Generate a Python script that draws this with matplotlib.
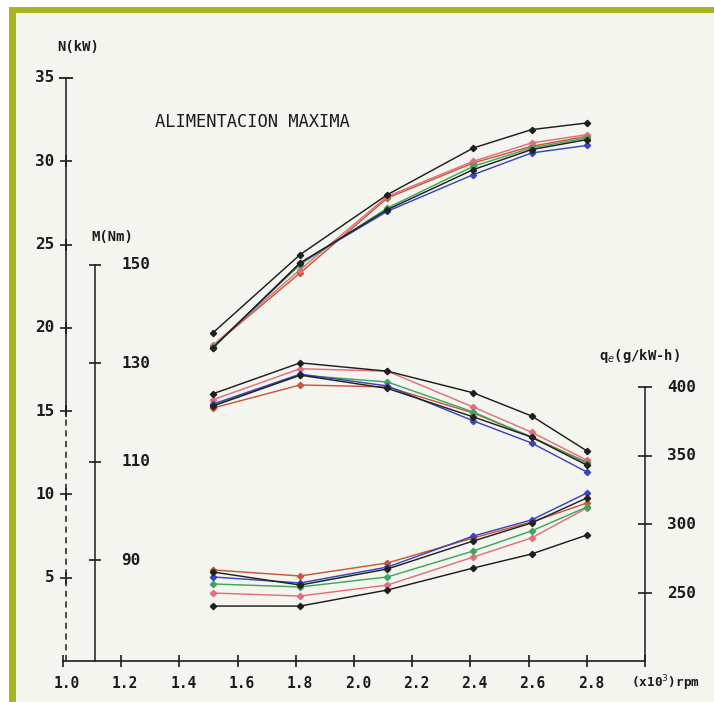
import matplotlib.pyplot as plt
from matplotlib.patches import Rectangle

# engine speed (x10^3 rpm) of the measured points
rpm = [1.515, 1.815, 2.115, 2.41, 2.61, 2.8]

# power N (kW) for each run
n_black_a = [19.7, 24.4, 28.0, 30.8, 31.9, 32.3]
n_pink = [18.95, 23.5, 27.9, 30.0, 31.1, 31.6]
n_red = [18.9, 23.3, 27.8, 29.9, 30.9, 31.5]
n_green = [18.85, 23.8, 27.2, 29.7, 30.8, 31.4]
n_black_b = [18.8, 23.9, 27.1, 29.5, 30.7, 31.3]
n_blue = [18.8, 23.9, 27.0, 29.2, 30.5, 30.95]

# torque M (Nm)
m_black_a = [123.8, 130.1, 128.4, 124.0, 119.3, 112.2]
m_pink = [122.6, 128.9, 128.4, 121.1, 116.0, 110.3]
m_red = [120.9, 125.6, 125.2, 119.9, 115.0, 109.9]
m_green = [121.5, 127.6, 126.2, 120.1, 115.0, 109.7]
m_black_b = [121.3, 127.6, 124.9, 119.1, 115.0, 109.3]
m_blue = [121.7, 127.8, 125.4, 118.3, 113.8, 107.9]

# specific consumption q_e (g/kW-h)
q_black_a = [240.5, 240.5, 252.2, 268.2, 278.4, 292.2]
q_pink = [250.0, 247.8, 255.8, 276.2, 290.1, 311.9]
q_red = [266.8, 262.4, 271.9, 290.1, 301.7, 315.5]
q_green = [256.6, 254.4, 261.7, 280.6, 295.2, 312.6]
q_black_b = [265.3, 255.8, 267.5, 287.9, 301.0, 319.2]
q_blue = [261.7, 257.3, 268.9, 291.5, 303.2, 322.8]

# axis ticks
x_ticks = [1.0, 1.2, 1.4, 1.6, 1.8, 2.0, 2.2, 2.4, 2.6, 2.8]
n_ticks = [5, 10, 15, 20, 25, 30, 35]
m_ticks = [90, 110, 130, 150]
q_ticks = [250, 300, 350, 400]

W, H = 714, 702
MONO = 'DejaVu Sans Mono'
INK = '#1c1c1c'

fig = plt.figure(figsize=(W / 100, H / 100), dpi=100)
fig.patch.set_facecolor('white')

#olive frame of the scanned page and paper colour (drawn below the axes)
olive = '#a9b41f'
fig.patches.append(Rectangle((16 / W, 0), 1, (H - 13) / H, transform=fig.transFigure,
                             facecolor='#f5f5f0', edgecolor='none', zorder=-10))
fig.patches.append(Rectangle((9 / W, 0), 7 / W, (H - 7) / H, transform=fig.transFigure,
                             facecolor=olive, edgecolor='none', zorder=-9))
fig.patches.append(Rectangle((9 / W, (H - 13) / H), 1, 6 / H, transform=fig.transFigure,
                             facecolor=olive, edgecolor='none', zorder=-9))

#axes in pixel position: x 1.0 -> 63px, 3.0 -> 645px, baseline at 661px, top at 78px
rect = [63 / W, (H - 661) / H, 582 / W, 583 / H]
ax = fig.add_axes(rect)
ax.set_xlim(1.0, 3.0)
ax.set_ylim(0, 35)
ax.axis('off')

axm = ax.twinx()
axm.set_ylim(69.46, 188.03)
axm.axis('off')

axq = ax.twinx()
axq.set_ylim(200.5, 625)
axq.axis('off')

colors = {'black_a': '#1e1e1e', 'pink': '#e26f7c', 'red': '#c8583a',
          'green': '#3fa65f', 'black_b': '#222222', 'blue': '#3b45b8'}

groups = [
    (ax, [n_red, n_pink, n_green, n_blue, n_black_b, n_black_a]),
    (axm, [m_red, m_pink, m_green, m_blue, m_black_b, m_black_a]),
    (axq, [q_red, q_pink, q_green, q_blue, q_black_b, q_black_a]),
]
order = ['red', 'pink', 'green', 'blue', 'black_b', 'black_a']
for a, series in groups:
    for name, vals in zip(order, series):
        a.plot(rpm, vals, color=colors[name], lw=1.05, marker='D', ms=3.2,
               mec=colors[name], mfc=colors[name], clip_on=False, zorder=3)

#bottom rpm axis
ax.plot([1.0, 3.0], [0, 0], color=INK, lw=1.2, clip_on=False)
ax.plot(x_ticks + [3.0], [0] * 11, ls='none', marker='|', ms=8, mew=1.2,
        color=INK, clip_on=False)
for t in x_ticks:
    ax.annotate('%.1f' % t, (t, 0), xytext=(4, -22), textcoords='offset pixels',
                ha='center', va='center', family=MONO, weight='bold', fontsize=10.5, color=INK)
ax.annotate('(x10$^3$)rpm', (3.0, 0), xytext=(21, -22), textcoords='offset pixels',
            ha='center', va='center', family=MONO, weight='bold', fontsize=9.2, color=INK)

#power axis: solid above 15 kW, dashed below
xn = 1.012
ax.plot([xn, xn], [15, 35], color=INK, lw=1.1, clip_on=False)
ax.plot([xn, xn], [0, 15], color=INK, lw=1.1, ls=(0, (4, 3)), clip_on=False)
ax.plot([xn] * 6, n_ticks[:-1], ls='none', marker='_', ms=9, mew=1.2, color=INK, clip_on=False)
ax.plot([xn] * 6, n_ticks[:-1], ls='none', marker='|', ms=8, mew=1.2, color=INK, clip_on=False)
ax.plot([xn], [35], ls='none', marker='_', ms=10, mew=1.3, color=INK, clip_on=False)
for t in n_ticks:
    ax.annotate(str(t), (xn, t), xytext=(-12, 0), textcoords='offset pixels',
                ha='right', va='center', family=MONO, weight='bold', fontsize=11.5, color=INK)
ax.annotate('N(kW)', (xn, 35), xytext=(12, 31), textcoords='offset pixels',
            ha='center', va='center', family=MONO, weight='bold', fontsize=10, color=INK)

#torque axis
xm = 1.11
axm.plot([xm, xm], [69.46, 150], color=INK, lw=1.1, clip_on=False)
axm.plot([xm] * 4, m_ticks, ls='none', marker='_', ms=9, mew=1.2, color=INK, clip_on=False)
for t in m_ticks:
    axm.annotate(str(t), (xm, t), xytext=(26, 0), textcoords='offset pixels',
                 ha='left', va='center', family=MONO, weight='bold', fontsize=11.5, color=INK)
axm.annotate('M(Nm)', (xm, 150), xytext=(17, 28), textcoords='offset pixels',
             ha='center', va='center', family=MONO, weight='bold', fontsize=10, color=INK)

#specific consumption axis
xq = 3.0
axq.plot([xq, xq], [200.5, 400], color=INK, lw=1.1, clip_on=False)
axq.plot([xq] * 4, q_ticks, ls='none', marker='_', ms=10, mew=1.2, color=INK, clip_on=False)
for t in q_ticks:
    axq.annotate(str(t), (xq, t), xytext=(22, 0), textcoords='offset pixels',
                 ha='left', va='center', family=MONO, weight='bold', fontsize=11.5, color=INK)
axq.annotate('q$_e$(g/kW-h)', (xq, 400), xytext=(-5, 31), textcoords='offset pixels',
             ha='center', va='center', family=MONO, weight='bold', fontsize=10, color=INK)

#title of the test condition
fig.text(155 / W, 1 - 122 / H, 'ALIMENTACION MAXIMA', ha='left', va='center',
         family=MONO, fontsize=12.3, color=INK)

fig.savefig('out.png', dpi=100)
